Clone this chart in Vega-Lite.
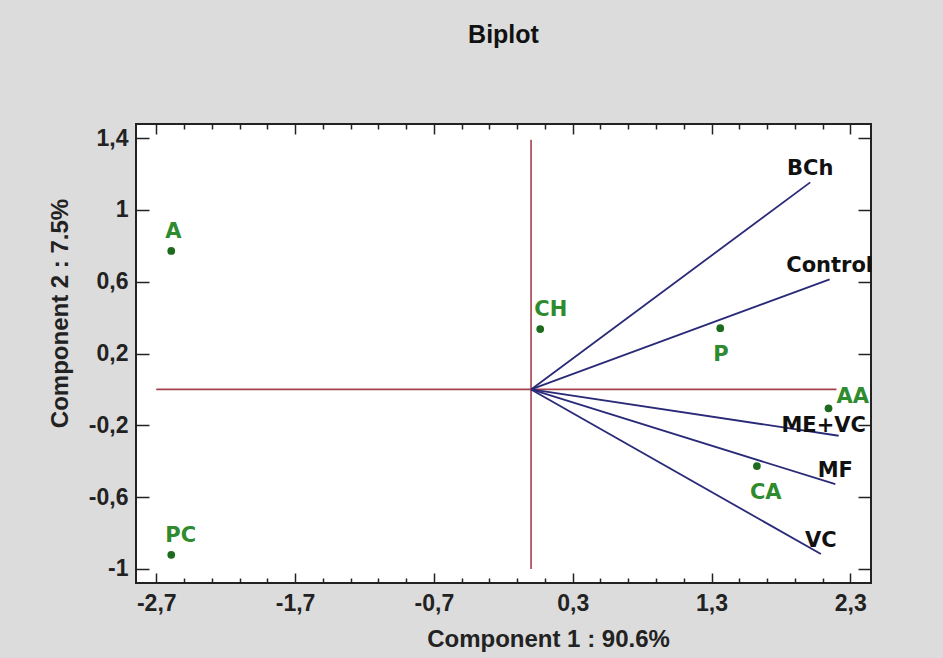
{
  "$schema": "https://vega.github.io/schema/vega-lite/v6.json",
  "width": 735,
  "height": 459,
  "autosize": "none",
  "padding": {"left": 136, "top": 124, "right": 72, "bottom": 75},
  "background": "#dcdcdc",
  "title": {"text": "Biplot", "font": "Liberation Sans", "fontSize": 25, "fontWeight": "bold", "color": "#111111", "anchor": "middle", "offset": 55, "baseline": "alphabetic"},
  "config": {
    "view": {"stroke": "#222222", "strokeWidth": 2, "fill": "white"}
  },
  "datasets": {
    "ref": [
      {"x1": -2.7, "x2": 2.2, "y1": 0, "y2": 0},
      {"x1": 0, "x2": 0, "y1": -1.0, "y2": 1.39}
    ],
    "vectors": [
      {"name": "BCh", "x": 2.011, "y": 1.153},
      {"name": "Control", "x": 2.151, "y": 0.613},
      {"name": "ME+VC", "x": 2.216, "y": -0.258},
      {"name": "MF", "x": 2.192, "y": -0.528},
      {"name": "VC", "x": 2.088, "y": -0.917}
    ],
    "points": [
      {"name": "A", "x": -2.592, "y": 0.771},
      {"name": "PC", "x": -2.592, "y": -0.921},
      {"name": "CH", "x": 0.066, "y": 0.336},
      {"name": "P", "x": 1.363, "y": 0.341},
      {"name": "AA", "x": 2.143, "y": -0.105},
      {"name": "CA", "x": 1.627, "y": -0.427}
    ]
  },
  "resolve": {"axis": {"x": "independent", "y": "independent"}},
  "layer": [
    {
      "data": {"name": "ref"},
      "mark": {"type": "rule", "color": "#a3404c", "strokeWidth": 1.6},
      "encoding": {
        "x": {"field": "x1", "type": "quantitative",
          "scale": {"domain": [-2.846, 2.449], "nice": false, "zero": false},
          "axis": {"orient": "top", "values": [-2.7,-2.5,-2.3,-2.1,-1.9,-1.7,-1.5,-1.3,-1.1,-0.9,-0.7,-0.5,-0.3,-0.1,0.1,0.3,0.5,0.7,0.9,1.1,1.3,1.5,1.7,1.9,2.1,2.3],
            "domain": false, "grid": false, "labels": false, "title": null,
            "tickColor": "#222222", "tickWidth": 1.5,
            "tickSize": {"condition": {"test": "abs(datum.value + 0.7 - round(datum.value + 0.7)) < 0.01", "value": -10}, "value": -5}}},
        "x2": {"field": "x2"},
        "y": {"field": "y1", "type": "quantitative",
          "scale": {"domain": [-1.078, 1.478], "nice": false, "zero": false},
          "axis": {"orient": "right", "values": [-1, -0.6, -0.2, 0.2, 0.6, 1, 1.4],
            "domain": false, "grid": false, "labels": false, "title": null,
            "tickColor": "#222222", "tickWidth": 1.5, "tickSize": -13}},
        "y2": {"field": "y2"}
      }
    },
    {
      "data": {"name": "vectors"},
      "mark": {"type": "rule", "color": "#2a2a78", "strokeWidth": 1.8},
      "encoding": {
        "x": {"field": "x", "type": "quantitative", "axis": null},
        "y": {"field": "y", "type": "quantitative", "axis": null},
        "x2": {"datum": 0},
        "y2": {"datum": 0}
      }
    },
    {
      "data": {"name": "vectors"},
      "transform": [{"filter": "datum.name !== 'ME+VC'"}],
      "mark": {"type": "text", "font": "DejaVu Sans", "fontWeight": "bold", "fontSize": 21, "color": "#111111", "align": "center", "baseline": "alphabetic", "dy": -7},
      "encoding": {
        "x": {"field": "x", "type": "quantitative", "axis": null},
        "y": {"field": "y", "type": "quantitative", "axis": null},
        "text": {"field": "name"}
      }
    },
    {
      "data": {"name": "vectors"},
      "transform": [{"filter": "datum.name === 'ME+VC'"}],
      "mark": {"type": "text", "font": "DejaVu Sans", "fontWeight": "bold", "fontSize": 21, "color": "#111111", "align": "center", "baseline": "alphabetic", "dx": -15, "dy": -4},
      "encoding": {
        "x": {"field": "x", "type": "quantitative", "axis": null},
        "y": {"field": "y", "type": "quantitative", "axis": null},
        "text": {"field": "name"}
      }
    },
    {
      "data": {"name": "points"},
      "mark": {"type": "circle", "color": "#1e6b1e", "opacity": 1, "size": 60},
      "encoding": {
        "x": {"field": "x", "type": "quantitative",
          "scale": {"domain": [-2.846, 2.449], "nice": false, "zero": false},
          "axis": {"orient": "bottom", "values": [-2.7,-2.5,-2.3,-2.1,-1.9,-1.7,-1.5,-1.3,-1.1,-0.9,-0.7,-0.5,-0.3,-0.1,0.1,0.3,0.5,0.7,0.9,1.1,1.3,1.5,1.7,1.9,2.1,2.3],
            "domain": false, "grid": false,
            "tickColor": "#222222", "tickWidth": 1.5,
            "tickSize": {"condition": {"test": "abs(datum.value + 0.7 - round(datum.value + 0.7)) < 0.01", "value": -10}, "value": -5},
            "labelExpr": "abs(datum.value + 0.7 - round(datum.value + 0.7)) < 0.01 ? replace(toString(datum.value), '.', ',') : ''",
            "labelFont": "Liberation Sans", "labelFontWeight": "bold", "labelFontSize": 23, "labelColor": "#222222",
            "labelPadding": 19, "labelFlush": false, "labelOverlap": false, "labelBaseline": "top",
            "title": "Component 1 : 90.6%", "titleFont": "Liberation Sans", "titleFontWeight": "bold", "titleFontSize": 24, "titleColor": "#222222",
            "titleX": 412, "titleY": 63, "titleBaseline": "alphabetic", "titleAlign": "center"}},
        "y": {"field": "y", "type": "quantitative",
          "scale": {"domain": [-1.078, 1.478], "nice": false, "zero": false},
          "axis": {"orient": "left", "values": [-1, -0.6, -0.2, 0.2, 0.6, 1, 1.4],
            "domain": false, "grid": false,
            "tickColor": "#222222", "tickWidth": 1.5, "tickSize": -13,
            "labelExpr": "replace(toString(datum.value), '.', ',')",
            "labelFont": "Liberation Sans", "labelFontWeight": "bold", "labelFontSize": 23, "labelColor": "#222222",
            "labelPadding": 21, "labelFlush": false, "labelOverlap": false,
            "title": "Component 2 : 7.5%", "titleFont": "Liberation Sans", "titleFontWeight": "bold", "titleFontSize": 24, "titleColor": "#222222",
            "titleX": -69, "titleY": 189, "titleBaseline": "alphabetic", "titleAlign": "center", "titleAngle": -90}}
      }
    },
    {
      "data": {"name": "points"},
      "transform": [{"filter": "indexof(['A', 'PC', 'CH'], datum.name) >= 0"}],
      "mark": {"type": "text", "font": "DejaVu Sans", "fontWeight": "bold", "fontSize": 21, "color": "#2e8b2e", "align": "left", "baseline": "alphabetic", "dx": -6, "dy": -13},
      "encoding": {
        "x": {"field": "x", "type": "quantitative", "axis": null},
        "y": {"field": "y", "type": "quantitative", "axis": null},
        "text": {"field": "name"}
      }
    },
    {
      "data": {"name": "points"},
      "transform": [{"filter": "indexof(['P', 'CA'], datum.name) >= 0"}],
      "mark": {"type": "text", "font": "DejaVu Sans", "fontWeight": "bold", "fontSize": 21, "color": "#2e8b2e", "align": "left", "baseline": "alphabetic", "dx": -7, "dy": 33},
      "encoding": {
        "x": {"field": "x", "type": "quantitative", "axis": null},
        "y": {"field": "y", "type": "quantitative", "axis": null},
        "text": {"field": "name"}
      }
    },
    {
      "data": {"name": "points"},
      "transform": [{"filter": "datum.name === 'AA'"}],
      "mark": {"type": "text", "font": "DejaVu Sans", "fontWeight": "bold", "fontSize": 21, "color": "#2e8b2e", "align": "left", "baseline": "alphabetic", "dx": 8, "dy": -5},
      "encoding": {
        "x": {"field": "x", "type": "quantitative", "axis": null},
        "y": {"field": "y", "type": "quantitative", "axis": null},
        "text": {"field": "name"}
      }
    }
  ]
}
